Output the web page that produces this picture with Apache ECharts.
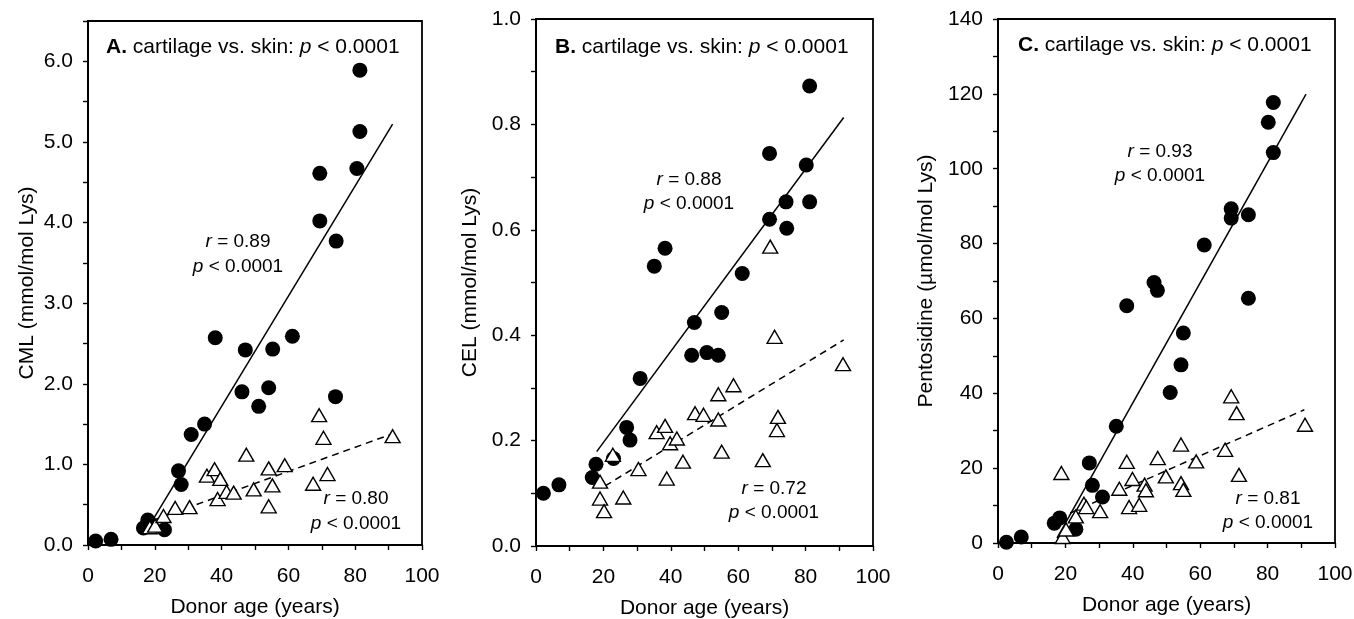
<!DOCTYPE html>
<html><head><meta charset="utf-8">
<script src="https://cdn.jsdelivr.net/npm/echarts@6/dist/echarts.min.js"></script>
<style>html,body{margin:0;padding:0;background:#fff}#c{width:1354px;height:619px}</style>
</head><body><div id="c"></div>
<script>
// ---- Data (age in years, value) ----
var cmlCartilage = [[2.3,0.05],[6.9,0.07],[16.6,0.21],[17.9,0.31],[22.9,0.19],[27.1,0.92],[27.9,0.75],[30.9,1.37],[34.9,1.50],[38.1,2.57],[46.1,1.90],[47.1,2.42],[51.1,1.72],[54.1,1.95],[55.3,2.43],[61.2,2.59],[69.4,4.61],[69.4,4.02],[74.1,1.84],[74.3,3.77],[80.5,4.67],[81.4,5.13],[81.4,5.89]];
var cmlSkin = [[18.5,0.22],[20.1,0.24],[22.6,0.36],[26.1,0.46],[30.4,0.47],[35.6,0.86],[37.9,0.94],[38.8,0.57],[39.6,0.82],[41.5,0.66],[43.6,0.65],[47.4,1.12],[49.6,0.69],[54.1,0.95],[54.1,0.48],[55.2,0.74],[58.9,0.99],[67.4,0.76],[69.2,1.61],[70.5,1.33],[71.7,0.88],[91.2,1.35]];
var cmlFitCartilage = [[18.5,0.25],[91.2,5.22]];
var cmlFitSkin = [[19,0.30],[91.2,1.38]];

var celCartilage = [[2.2,0.100],[6.8,0.116],[16.7,0.130],[17.8,0.155],[23.0,0.166],[26.9,0.225],[27.9,0.201],[30.9,0.318],[35.1,0.531],[38.3,0.565],[46.2,0.362],[47.0,0.424],[50.7,0.367],[54.1,0.362],[55.1,0.443],[61.2,0.517],[69.3,0.745],[69.3,0.620],[74.2,0.653],[74.4,0.603],[80.2,0.723],[81.2,0.873],[81.2,0.653]];
var celSkin = [[19.0,0.122],[19.0,0.090],[20.2,0.066],[22.8,0.173],[25.9,0.092],[30.4,0.146],[35.8,0.216],[38.3,0.228],[38.8,0.128],[39.8,0.195],[41.8,0.204],[43.6,0.160],[47.2,0.252],[49.7,0.249],[54.1,0.288],[54.1,0.240],[55.1,0.179],[58.6,0.305],[67.3,0.163],[69.5,0.568],[70.8,0.397],[71.5,0.220],[71.8,0.245],[91.1,0.345]];
var celFitCartilage = [[18.0,0.179],[91.3,0.813]];
var celFitSkin = [[20.5,0.114],[91.3,0.391]];

var pentCartilage = [[2.5,0.2],[6.9,1.6],[16.7,5.3],[18.3,6.7],[23.1,3.7],[27.1,21.4],[28.0,15.4],[31.0,12.3],[35.1,31.2],[38.2,63.4],[46.3,69.6],[47.3,67.5],[51.1,40.2],[54.3,47.6],[55.0,56.1],[61.2,79.6],[69.2,89.3],[69.2,86.8],[74.3,87.7],[74.3,65.4],[80.2,112.4],[81.7,117.7],[81.7,104.3]];
var pentSkin = [[18.8,18.7],[19.2,1.6],[20.2,3.6],[23.1,7.1],[25.5,10.5],[26.2,9.6],[30.3,8.5],[36.0,14.5],[38.2,21.7],[38.9,9.6],[39.9,17.1],[41.9,10.2],[43.5,15.6],[43.9,14.1],[47.4,22.7],[49.8,17.8],[54.3,26.3],[54.3,16.0],[55.0,14.2],[58.8,21.8],[67.4,24.9],[69.2,39.2],[70.8,34.7],[71.5,18.2],[91.1,31.6]];
var pentFitCartilage = [[17.5,1.3],[91.4,119.9]];
var pentFitSkin = [[21.4,8.0],[90.9,35.6]];

var panelLetters = ['A.', 'B.', 'C.'];
var yNames = ['CML (mmol/mol Lys)', 'CEL (mmol/mol Lys)', 'Pentosidine (\u00b5mol/mol Lys)'];
var xName = 'Donor age (years)';
var rUpper = ['0.89', '0.88', '0.93'];
var rLower = ['0.80', '0.72', '0.81'];

// ---- Layout ----
var FONT = 'Liberation Sans, Arial, Helvetica, sans-serif';
var grids = [
  {left: 88, top: 21, width: 334, height: 524},
  {left: 536, top: 19, width: 337, height: 527},
  {left: 998, top: 19, width: 337, height: 524}
];
var yCfg = [
  {max: 6.5, interval: 0.5, fmt: function(v){ return Math.abs(v - Math.round(v)) < 1e-6 ? v.toFixed(1) : ''; }, gap: 50},
  {max: 1.0, interval: 0.1, fmt: function(v){ var t = Math.round(v*10); return t % 2 === 0 ? (t/10).toFixed(1) : ''; }, gap: 55},
  {max: 140, interval: 10, fmt: function(v){ return Math.round(v) % 20 === 0 ? String(Math.round(v)) : ''; }, gap: 61}
];

var option = {
  backgroundColor: '#fff',
  animation: false,
  textStyle: {fontFamily: FONT, color: '#000'},
  grid: grids.map(function(g){ return Object.assign({show: true, borderColor: '#000', borderWidth: 1.8, outerBoundsMode: 'none', containLabel: false}, g); }),
  xAxis: [0,1,2].map(function(i){ return {
    type: 'value', gridIndex: i, min: 0, max: 100, interval: 10,
    name: xName, nameLocation: 'middle', nameGap: 52,
    nameTextStyle: {fontSize: 21, color: '#000', fontFamily: FONT},
    axisLine: {show: true, onZero: false, lineStyle: {color: '#000', width: 1.8}},
    axisTick: {show: true, length: 5, lineStyle: {color: '#000', width: 1.4}},
    axisLabel: {fontSize: 21, color: '#000', margin: 21, fontFamily: FONT,
      formatter: function(v){ return Math.round(v) % 20 === 0 ? String(Math.round(v)) : ''; }},
    splitLine: {show: false}
  }; }),
  yAxis: [0,1,2].map(function(i){ return {
    type: 'value', gridIndex: i, min: 0, max: yCfg[i].max, interval: yCfg[i].interval,
    name: yNames[i], nameLocation: 'middle', nameGap: yCfg[i].gap, nameRotate: 90,
    nameTextStyle: {fontSize: 21, color: '#000', fontFamily: FONT},
    axisLine: {show: true, onZero: false, lineStyle: {color: '#000', width: 1.8}},
    axisTick: {show: true, length: 5, lineStyle: {color: '#000', width: 1.4}},
    axisLabel: {fontSize: 21, color: '#000', margin: 15, fontFamily: FONT, formatter: yCfg[i].fmt},
    splitLine: {show: false}
  }; }),
  series: []
};

var sets = [
  [cmlCartilage, cmlSkin, cmlFitCartilage, cmlFitSkin],
  [celCartilage, celSkin, celFitCartilage, celFitSkin],
  [pentCartilage, pentSkin, pentFitCartilage, pentFitSkin]
];
sets.forEach(function(s, i){
  option.series.push({type: 'line', xAxisIndex: i, yAxisIndex: i, data: s[2], symbol: 'none', z: 1,
    lineStyle: {color: '#000', width: 1.5, type: 'solid'}});
  option.series.push({type: 'line', xAxisIndex: i, yAxisIndex: i, data: s[3], symbol: 'none', z: 1,
    lineStyle: {color: '#000', width: 1.5, type: [7, 5]}});
  option.series.push({type: 'scatter', xAxisIndex: i, yAxisIndex: i, data: s[0], symbol: 'circle', symbolSize: 15, z: 2,
    itemStyle: {color: '#000', opacity: 1}});
  option.series.push({type: 'scatter', xAxisIndex: i, yAxisIndex: i, data: s[1], symbol: 'triangle', symbolSize: [15, 13], z: 3,
    itemStyle: {color: '#fff', borderColor: '#000', borderWidth: 1.4, opacity: 1}});
});

function txt(x, y, text, size, align, rich){
  return {type: 'text', x: x, y: y, z: 100, style: {text: text, fontSize: size, fontFamily: FONT, fill: '#000',
    align: align, verticalAlign: 'middle', rich: rich}};
}
var richT = {b: {fontWeight: 'bold', fontSize: 21, fontFamily: FONT}, i: {fontStyle: 'italic', fontSize: 21, fontFamily: FONT}};
var richA = {i: {fontStyle: 'italic', fontSize: 19, fontFamily: FONT}};
var titlePos = [[106, 47], [555, 47], [1018, 45]];
var upPos = [[238, 242, 267], [689, 180, 204], [1160, 152, 176]];
var lowPos = [[356, 499, 524], [774, 489, 513], [1268, 499, 523]];
var g = [];
for (var i = 0; i < 3; i++) {
  g.push(txt(titlePos[i][0], titlePos[i][1], '{b|' + panelLetters[i] + '} cartilage vs. skin: {i|p} < 0.0001', 21, 'left', richT));
  g.push(txt(upPos[i][0], upPos[i][1], '{i|r} = ' + rUpper[i], 19, 'center', richA));
  g.push(txt(upPos[i][0], upPos[i][2], '{i|p} < 0.0001', 19, 'center', richA));
  g.push(txt(lowPos[i][0], lowPos[i][1], '{i|r} = ' + rLower[i], 19, 'center', richA));
  g.push(txt(lowPos[i][0], lowPos[i][2], '{i|p} < 0.0001', 19, 'center', richA));
}
option.graphic = g;

var chart = echarts.init(document.getElementById('c'), null, {renderer: 'canvas'});
chart.setOption(option);
</script>
</body></html>
